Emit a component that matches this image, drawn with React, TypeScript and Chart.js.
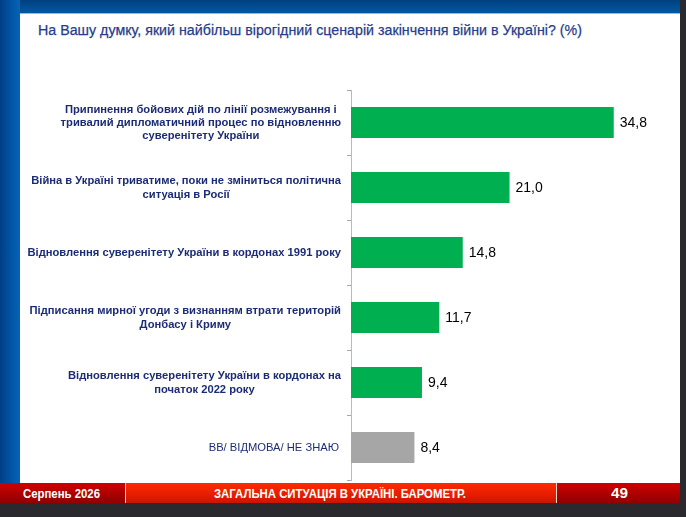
import React, { useEffect, useLayoutEffect, useRef } from "react";
import { Chart, registerables } from "chart.js";

Chart.register(...registerables);

const categories: string[][] = [
  [
    "Припинення бойових дій по лінії розмежування і",
    "тривалий дипломатичний процес по відновленню",
    "суверенітету України",
  ],
  ["Війна в Україні триватиме, поки не зміниться політична", "ситуація в Росії"],
  ["Відновлення суверенітету України в кордонах 1991 року"],
  ["Підписання мирної угоди з визнанням втрати територій", "Донбасу і Криму"],
  ["Відновлення суверенітету України в кордонах на", "початок 2022 року"],
  ["ВВ/ ВІДМОВА/ НЕ ЗНАЮ"],
];
const values: number[] = [34.8, 21.0, 14.8, 11.7, 9.4, 8.4];
const barColors: string[] = ["#00b050", "#00b050", "#00b050", "#00b050", "#00b050", "#a6a6a6"];
const labelBold: boolean[] = [true, true, true, true, true, false];
const valueLabels: string[] = values.map((v) => v.toFixed(1).replace(".", ","));

const titleText = "На Вашу думку, який найбільш вірогідний сценарій закінчення війни в Україні? (%)";
const footerLeft = "Серпень 2026";
const footerMid = "ЗАГАЛЬНА СИТУАЦІЯ В УКРАЇНІ. БАРОМЕТР.";
const footerRight = "49";

const LABEL_COLOR = "#1c2c74";
const SANS = '"Liberation Sans", Arial, sans-serif';

const labelPlugin = {
  id: "customLabels",
  afterDatasetsDraw(chart: any) {
    const ctx = chart.ctx as CanvasRenderingContext2D;
    const yScale = chart.scales.y;
    const meta = chart.getDatasetMeta(0);
    ctx.save();
    ctx.textBaseline = "middle";
    categories.forEach((lines, i) => {
      const cy = yScale.getPixelForValue(i) + 0.5;
      ctx.font = `${labelBold[i] ? "bold " : ""}11.2px ${SANS}`;
      const w = Math.max(...lines.map((l) => ctx.measureText(l).width));
      const right = yScale.right - (labelBold[i] ? 10 : 12);
      const cx = right - w / 2;
      ctx.fillStyle = LABEL_COLOR;
      ctx.textAlign = "center";
      const lh = 13.2;
      lines.forEach((l, j) => {
        ctx.fillText(l, cx, cy + (j - (lines.length - 1) / 2) * lh);
      });
    });
    meta.data.forEach((bar: any, i: number) => {
      ctx.font = `14px ${SANS}`;
      ctx.fillStyle = "#000000";
      ctx.textAlign = "left";
      ctx.fillText(valueLabels[i], bar.x + 6, bar.y + 1);
    });
    ctx.restore();
  },
};

function BarChart() {
  const ref = useRef<HTMLCanvasElement | null>(null);
  useEffect(() => {
    if (!ref.current) return;
    const chart = new Chart(ref.current, {
      type: "bar",
      data: {
        labels: categories.map((c) => c.join(" ")),
        datasets: [
          {
            data: values,
            backgroundColor: barColors,
            borderWidth: 0,
            barPercentage: 0.48,
            categoryPercentage: 1,
          },
        ],
      },
      options: {
        indexAxis: "y",
        animation: false,
        responsive: false,
        maintainAspectRatio: false,
        layout: { padding: { top: 10, bottom: 10, left: 0, right: 27 } },
        plugins: { legend: { display: false }, tooltip: { enabled: false } },
        scales: {
          x: { display: false, min: 0, max: 40 },
          y: {
            ticks: { display: false },
            grid: {
              offset: true,
              drawOnChartArea: false,
              drawTicks: true,
              tickLength: 4,
              color: "#a0a4b8",
            },
            border: { display: true, color: "#b4b9cf", width: 1 },
            afterFit: (s: any) => {
              s.width = 331;
            },
          },
        },
      },
      plugins: [labelPlugin],
    } as any);
    return () => chart.destroy();
  }, []);
  return <canvas ref={ref} width={660} height={410} style={{ width: 660, height: 410, display: "block" }} />;
}

function Fit(props: { text: string; width: number; style: React.CSSProperties }) {
  const ref = useRef<HTMLSpanElement | null>(null);
  useLayoutEffect(() => {
    const el = ref.current;
    if (!el) return;
    el.style.transform = "none";
    const w = el.getBoundingClientRect().width;
    if (w > 0) el.style.transform = `scaleX(${props.width / w})`;
  }, [props.text, props.width]);
  return (
    <span
      ref={ref}
      style={{ display: "inline-block", whiteSpace: "nowrap", transformOrigin: "left center", ...props.style }}
    >
      {props.text}
    </span>
  );
}

export default function App() {
  return (
    <div
      style={{
        position: "fixed",
        left: 0,
        top: 0,
        width: 686,
        height: 517,
        background: "#2a2a2e",
        overflow: "hidden",
        fontFamily: SANS,
      }}
    >
      <div
        style={{
          position: "absolute",
          left: 0,
          top: 0,
          width: 680,
          height: 14,
          background: "linear-gradient(to bottom, #00407f 0%, #005aa6 100%)",
        }}
      />
      <div
        style={{
          position: "absolute",
          left: 0,
          top: 0,
          width: 20,
          height: 483,
          background: "linear-gradient(to right, #003e86 0%, #0057a8 60%, #0a62b4 100%)",
        }}
      />
      <div
        style={{
          position: "absolute",
          left: 20,
          top: 13,
          width: 660,
          height: 470,
          background: "#ffffff",
          borderTop: "1px solid #8fb8e0",
          boxSizing: "border-box",
        }}
      />
      <div style={{ position: "absolute", left: 38, top: 21, lineHeight: "18px" }}>
        <Fit
          text={titleText}
          width={544}
          style={{ fontSize: 15.5, color: "#253d8a", fontFamily: SANS, WebkitTextStroke: "0.25px #253d8a" }}
        />
      </div>
      <div style={{ position: "absolute", left: 20, top: 80, width: 660, height: 410 }}>
        <BarChart />
      </div>
      <div style={{ position: "absolute", left: 0, top: 483, width: 680, height: 20 }}>
        <div
          style={{
            position: "absolute",
            left: 0,
            top: 0,
            width: 125,
            height: 20,
            background: "linear-gradient(to bottom, #cf0000 0%, #8e0000 100%)",
          }}
        />
        <div style={{ position: "absolute", left: 125, top: 0, width: 1, height: 20, background: "#f3d6d0" }} />
        <div
          style={{
            position: "absolute",
            left: 126,
            top: 0,
            width: 430,
            height: 20,
            background: "linear-gradient(to bottom, #ff2a00 0%, #e01a00 70%, #c81400 100%)",
          }}
        />
        <div style={{ position: "absolute", left: 556, top: 0, width: 1, height: 20, background: "#f3d6d0" }} />
        <div
          style={{
            position: "absolute",
            left: 557,
            top: 0,
            width: 123,
            height: 20,
            background: "linear-gradient(to bottom, #cf0000 0%, #8e0000 100%)",
          }}
        />
        <div style={{ position: "absolute", left: 23, top: 2, lineHeight: "16px" }}>
          <Fit text={footerLeft} width={77} style={{ fontSize: 12.5, fontWeight: "bold", color: "#fff" }} />
        </div>
        <div style={{ position: "absolute", left: 214, top: 2, lineHeight: "16px" }}>
          <Fit text={footerMid} width={252} style={{ fontSize: 12.5, fontWeight: "bold", color: "#fff" }} />
        </div>
        <div style={{ position: "absolute", left: 611, top: 1, lineHeight: "18px" }}>
          <Fit text={footerRight} width={17} style={{ fontSize: 15, fontWeight: "bold", color: "#fff" }} />
        </div>
      </div>
    </div>
  );
}
